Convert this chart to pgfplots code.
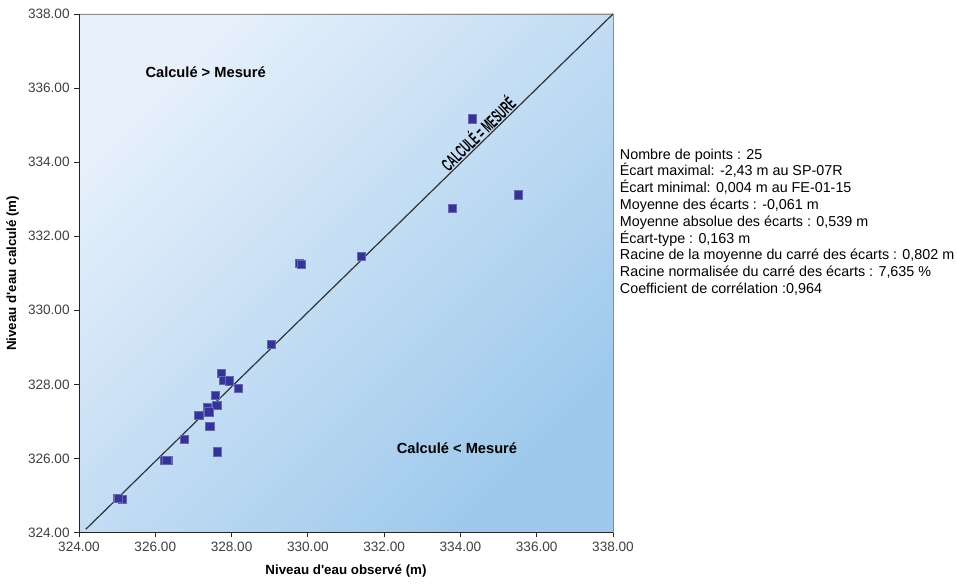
\documentclass[border=0pt]{standalone}
\usepackage{pgfplots}
\pgfplotsset{compat=1.18}
\usepackage{fontspec}
\setmainfont{Liberation Sans}[Ligatures=TeXOff]
\newfontfamily\narrowfont{Liberation Sans}[FakeStretch=0.52]
\definecolor{markblue}{RGB}{51,51,153}
\definecolor{bgA}{RGB}{230,240,251}
\definecolor{bgB}{RGB}{158,201,236}
\begin{document}
\begin{tikzpicture}
\begin{axis}[
  scale only axis,
  width=400.5pt, height=388.9pt,
  xmin=324, xmax=338, ymin=324, ymax=338,
  xtick distance=2, ytick distance=2,
  axis lines=left,
  axis line style={-, black!85, line width=0.6pt},
  tick align=outside,
  major tick length=3.5pt,
  tick style={black!85, line width=0.6pt},
  tick label style={font=\fontsize{10.2}{12}\selectfont, text=black!75},
  /pgf/number format/.cd, fixed, fixed zerofill, precision=2, assume math mode=true,
  /pgfplots/.cd,
  xlabel={Niveau d'eau observé (m)},
  ylabel={Niveau d'eau calculé (m)},
  label style={font=\bfseries\fontsize{10}{12}\selectfont},
  xlabel style={yshift=-3pt},
  ylabel style={yshift=0pt},
  axis background/.style={shade, shading=axis, top color=bgA, bottom color=bgB, shading angle=45, draw=black!45, line width=0.6pt},
  clip=false,
]
\addplot[black!80, line width=0.9pt] coordinates {(324.18,324.09) (338,338)};
\addplot[only marks, mark=square*, mark size=3.1pt, mark options={fill=markblue, draw=markblue!75!white, line width=0.3pt}] table {
x y
334.30 335.17
335.51 333.12
333.78 332.76
331.39 331.47
329.77 331.28
329.82 331.25
329.03 329.08
327.72 328.30
327.78 328.12
327.93 328.10
328.17 327.90
327.58 327.70
327.61 327.44
327.37 327.38
327.40 327.26
327.14 327.17
327.43 326.88
326.75 326.52
327.62 326.18
326.23 325.95
326.34 325.95
325.01 324.93
325.14 324.90
325.02 324.92
326.30 325.96
};
\node[font=\bfseries\fontsize{11}{13}\selectfont] at (axis cs:327.32,336.42) {Calculé > Mesuré};
\node[font=\bfseries\fontsize{11}{13}\selectfont] at (axis cs:333.91,326.29) {Calculé < Mesuré};
\node[anchor=south, rotate=44.2, inner sep=0.8pt, font=\narrowfont\bfseries\fontsize{13.5}{14}\selectfont] at (axis cs:334.62,334.6) {CALCULÉ = MESURÉ};
\node[anchor=west, align=left, inner sep=0pt, font=\fontsize{10.75}{12.6}\selectfont] at ([xshift=5pt]rel axis cs:1,0.599) {Nombre de points : 25\\
Écart maximal: -2,43 m au SP-07R\\
Écart minimal: 0,004 m au FE-01-15\\
Moyenne des écarts : -0,061 m\\
Moyenne absolue des écarts : 0,539 m\\
Écart-type :  0,163 m\\
Racine de la moyenne du carré des écarts : 0,802 m\\
Racine normalisée du carré des écarts : 7,635 \%\\
Coefficient de corrélation :0,964};
\coordinate (SW) at (rel axis cs:0,0);
\coordinate (NE) at (rel axis cs:1,1);
\end{axis}
\pgfresetboundingbox
\path ([shift={(-59.25pt,-38.6pt)}]SW) rectangle ([shift={(258pt,10.5pt)}]NE);
\end{tikzpicture}
\end{document}
